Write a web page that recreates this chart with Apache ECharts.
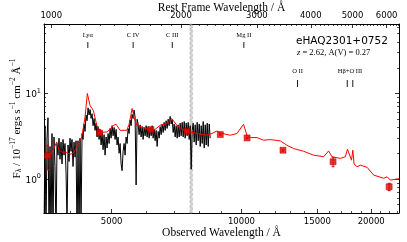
<!DOCTYPE html>
<html><head><meta charset="utf-8">
<script src="https://cdn.jsdelivr.net/npm/echarts@6/dist/echarts.min.js"></script>
<style>html,body{margin:0;padding:0;background:#fff}#c{width:407px;height:242px}</style>
</head><body><div id="c"></div>
<script>
const redshift = 2.62;
const objectName = 'eHAQ2301+0752';
const extinctionAV = 0.27;

// Observed spectrum (black)
const obsWave = [3483,3502,3520,3539,3558,3578,3597,3616,3635,3655,3674,3694,3714,3734,3754,3774,3794,3815,3835,3856,3876,3897,3918,3939,3960,3981,4002,4024,4045,4067,4089,4111,4133,4155,4177,4200,4222,4245,4268,4291,4314,4337,4360,4384,4407,4431,4455,4479,4503,4527,4551,4575,4600,4625,4649,4674,4699,4725,4750,4775,4801,4827,4853,4879,4905,4931,4958,4984,5011,5038,5064,5092,5119,5146,5174,5202,5230,5258,5286,5314,5343,5371,5400,5429,5458,5487,5517,5546,5576,5606,5636,5666,5697,5727,5758,5789,5820,5851,5883,5914,5946,5978,6010,6042,6075,6107,6140,6173,6206,6239,6273,6306,6340,6374,6409,6443,6477,6512,6547,6582,6617,6653,6688,6724,6760,6796,6833,6870,6907,6944,6981,7018,7056,7094,7132,7170,7209,7247,7286,7325,7365,7404,7444,7484,7524,7564,7605,7646,7687,7728,7769,7811,7853,7895,7937,7980,8023,8066,8109,8152,8196,8240,8284,8329,8373,8418,8463];
const obsFlux = [0.2,4.2,0.2,3.0,5.2,0.2,2.4,0.2,3.4,0.2,3.1,1.4,0.2,2.6,1.9,
  3.0,1.7,2.7,1.5,2.9,1.9,2.6,1.2,0.3,2.5,1.6,3.0,2.1,2.9,1.4,2.7,1.8,2.8,
  0.2,2.8,0.2,3.0,0.3,3.4,
  2.9,4.4,3.6,5.6,4.8,6.8,5.6,6.5,5.1,5.8,
  4.2,5.1,3.7,4.5,3.1,4.1,2.9,3.8,
  2.5,3.5,2.2,3.3,1.9,3.1,2.3,3.4,2.6,3.9,3.0,4.2,3.2,4.0,2.9,3.8,2.5,
  3.1,2.0,2.6,1.5,1.25,2.1,2.6,1.9,3.1,2.6,
  3.9,3.4,4.9,4.2,5.7,5.1,6.4,5.3,0.85,5.0,
  4.4,3.3,4.3,3.1,4.1,2.9,4.0,3.2,4.2,3.1,4.1,3.0,4.0,3.2,4.2,3.0,3.8,2.8,3.7,2.4,3.6,3.0,4.1,
  3.3,4.4,3.5,4.6,3.7,4.8,3.9,5.0,4.2,5.4,4.4,5.0,
  3.5,4.4,3.1,4.2,3.0,4.3,3.1,4.5,3.2,4.6,3.1,4.7,3.0,4.5,3.2,4.6,2.9,4.2,1.3,3.7,
  4.5,2.7,4.3,2.5,4.6,2.8,4.4,2.4,4.2,2.6,4.7,2.3,4.3,2.5,4.5,2.4,4.4,3.0];

// Model spectrum (red)
const modelWave = [3483,3597,3674,3728,3774,3835,3918,4003,4067,4148,4261,4337,4391,4454,4534,4617,4700,4775,4871,4958,5046,5120,5230,5421,5487,5577,5636,5718,5924,6140,6306,6477,6713,6895,7082,7336,7604,7882,8312,8540,8771,8926,9418,9761,10111,10297,10482,10863,11253,11662,12304,12751,13211,13936,14702,15508,15928,16221,16959,17416,17620,18000,18130,18250,18543,18875,19560,20266,21377,21770,22156,23246];
const modelFlux = [1.80,1.85,2.29,2.71,2.17,2.06,2.06,1.95,2.00,2.37,3.10,5.30,10.0,7.24,6.34,4.24,3.71,3.52,3.55,3.81,4.24,4.36,3.71,3.71,4.36,6.68,5.26,4.24,3.99,3.71,3.81,4.24,4.44,5.08,4.24,3.71,3.55,3.40,3.25,3.40,3.64,3.45,3.25,3.40,4.36,3.25,3.05,3.05,2.84,2.89,2.79,2.48,2.27,2.11,1.90,1.82,2.13,1.82,1.74,1.82,2.23,1.66,2.17,1.50,1.39,1.45,1.37,1.11,1.02,1.06,0.97,1.01];

// Photometry (red squares)
const photWave = [3551,4686,6166,7480,8932,10305,12483,16313,22010];
const photFlux = [1.88,3.45,3.78,3.61,3.31,3.02,2.17,1.59,0.81];
const photErr  = [0.60,0.05,0.05,0.05,0.06,0.06,0.06,0.20,0.08];

// Axis ticks
const obsTicks = [5000,10000,15000,20000];
const obsMinor = [4000,6000,7000,8000,9000,11000,12000,13000,14000,16000,17000,18000,19000,21000,22000,23000];
const restTicks = [1000,2000,3000,4000,5000,6000];
const yTicks = [1,10];
const yMinor = [0.4,0.5,0.6,0.7,0.8,0.9,2,3,4,5,6,7,8,9,20,30,40,50,60];

// Emission lines
const lineRest = [1216,1549,1909,2798,3727,4861,5007];
const lineNames = ['Lyα','C IV','C III','Mg II','O II','Hβ','O III'];
const lineGroups = [[0],[1],[2],[3],[4],[5,6]];

// Telluric band
const tellBand = [7600,7690];

const restMinor = [];
for (let r = 1000; r <= 6400; r += 100) if (restTicks.indexOf(r) < 0) restMinor.push(r);

const X0 = 3483, X1 = 23200, Y0 = 0.40, Y1 = 65;
const serif = 'Liberation Serif', sans = 'DejaVu Sans';
const zp1 = 1 + redshift;

function baseX(o) {
  return Object.assign({type:'log', logBase:10, min:X0, max:X1, splitLine:{show:false}, nameMoveOverlap:false,
    axisLine:{show:false}, axisLabel:{show:false}, axisTick:{show:false}, minorTick:{show:false}}, o);
}
function baseY(o) {
  return Object.assign({type:'log', logBase:10, min:Y0, max:Y1, splitLine:{show:false}, nameMoveOverlap:false,
    axisLine:{show:false}, axisLabel:{show:false}, axisTick:{show:false}, minorTick:{show:false}}, o);
}
const frameLine = {show:true, onZero:false, lineStyle:{color:'#000', width:1}};

const chart = echarts.init(document.getElementById('c'), null, {renderer:'canvas'});
chart.setOption({
  animation:false,
  backgroundColor:'#fff',
  grid:{left:44, right:8, top:24, bottom:29, containLabel:false, outerBoundsMode:'none'},
  xAxis:[
    baseX({position:'bottom', axisLine:frameLine,
      axisTick:{show:true, inside:true, length:4, customValues:obsTicks, lineStyle:{color:'#000', width:0.8}},
      axisLabel:{show:true, customValues:obsTicks, margin:4, fontFamily:sans, fontSize:8.5, color:'#000',
        formatter:v => String(Math.round(v))},
      name:'Observed Wavelength / Å', nameLocation:'middle', nameGap:14,
      nameTextStyle:{fontFamily:serif, fontSize:11.5, color:'#000'}}),
    baseX({position:'bottom',
      axisTick:{show:true, inside:true, length:2, customValues:obsMinor, lineStyle:{color:'#000', width:0.7}}}),
    baseX({position:'top', axisLine:frameLine,
      axisTick:{show:true, inside:true, length:4, customValues:restTicks.map(r => r*zp1), lineStyle:{color:'#000', width:0.8}},
      axisLabel:{show:true, customValues:restTicks.map(r => r*zp1), margin:4, fontFamily:sans, fontSize:8.5, color:'#000',
        formatter:v => String(Math.round(v/zp1/100)*100)},
      name:'Rest Frame Wavelength / Å', nameLocation:'middle', nameGap:10,
      nameTextStyle:{fontFamily:serif, fontSize:11.5, color:'#000'}}),
    baseX({position:'top',
      axisTick:{show:true, inside:true, length:2, customValues:restMinor.map(r => r*zp1), lineStyle:{color:'#000', width:0.7}}})
  ],
  yAxis:[
    baseY({position:'left', axisLine:frameLine,
      axisTick:{show:true, inside:true, length:4, customValues:yTicks, lineStyle:{color:'#000', width:0.8}},
      axisLabel:{show:true, customValues:yTicks, margin:3, color:'#000',
        formatter:v => '{b|10}{s|' + Math.round(Math.log10(v)) + '}',
        rich:{b:{fontFamily:sans, fontSize:9, color:'#000', padding:[3,0,0,0]},
              s:{fontFamily:sans, fontSize:6.5, color:'#000', verticalAlign:'top'}}},
      name:'{n|F}{sub|λ}{n| / 10}{sup|−17}{n| ergs s}{sup|−1}{n| cm}{sup|−2}{n| Å}{sup|−1}',
      nameLocation:'middle', nameRotate:90, nameGap:21,
      nameTextStyle:{fontFamily:serif, fontSize:11, color:'#000',
        rich:{n:{fontFamily:serif, fontSize:11, color:'#000', padding:[3,0,0,0]},
              sub:{fontFamily:serif, fontSize:7.5, color:'#000', verticalAlign:'bottom'},
              sup:{fontFamily:serif, fontSize:7.5, color:'#000', verticalAlign:'top'}}}}),
    baseY({position:'left',
      axisTick:{show:true, inside:true, length:2, customValues:yMinor, lineStyle:{color:'#000', width:0.7}}}),
    baseY({position:'right', axisLine:frameLine,
      axisTick:{show:true, inside:true, length:4, customValues:yTicks, lineStyle:{color:'#000', width:0.8}}}),
    baseY({position:'right',
      axisTick:{show:true, inside:true, length:2, customValues:yMinor, lineStyle:{color:'#000', width:0.7}}})
  ],
  series:[
    {type:'line', xAxisIndex:0, yAxisIndex:0, symbol:'none', clip:true, z:2,
      data:obsWave.map((w,i) => [w, obsFlux[i]]),
      lineStyle:{color:'#000', width:1},
      markArea:{silent:true, itemStyle:{color:'rgba(185,185,185,0.55)', borderColor:'rgba(150,150,150,0.7)', borderWidth:0.8, borderType:'dashed'},
        data:[[{xAxis:tellBand[0]},{xAxis:tellBand[1]}]]}},
    {type:'line', xAxisIndex:0, yAxisIndex:0, symbol:'none', clip:true, z:3,
      data:modelWave.map((w,i) => [w, modelFlux[i]]),
      lineStyle:{color:'#ff0000', width:1}},
    {type:'custom', xAxisIndex:0, yAxisIndex:0, z:4, clip:true,
      data:photWave.map((w,i) => [w, photFlux[i], photErr[i]]),
      encode:{x:0, y:1},
      renderItem:(params, api) => {
        const x = api.value(0), f = api.value(1), e = api.value(2);
        const lo = api.coord([x, f - e]), hi = api.coord([x, f + e]);
        const st = {stroke:'#dd0000', lineWidth:1};
        return {type:'group', children:[
          {type:'line', shape:{x1:lo[0], y1:lo[1], x2:hi[0], y2:hi[1]}, style:st},
          {type:'line', shape:{x1:lo[0]-1.5, y1:lo[1], x2:lo[0]+1.5, y2:lo[1]}, style:st},
          {type:'line', shape:{x1:hi[0]-1.5, y1:hi[1], x2:hi[0]+1.5, y2:hi[1]}, style:st}
        ]};
      }},
    {type:'scatter', xAxisIndex:0, yAxisIndex:0, z:5, symbol:'rect', symbolSize:6,
      data:photWave.map((w,i) => [w, photFlux[i]]),
      itemStyle:{color:'#ee0000', borderColor:'#990000', borderWidth:0.6}},
    {type:'custom', xAxisIndex:0, yAxisIndex:0, z:6, clip:false, silent:true,
      data:lineGroups.map(g => [lineRest[g[0]]*zp1, lineRest[g[g.length-1]]*zp1]),
      renderItem:(params, api) => {
        const a = api.value(0), b = api.value(1);
        const xa = api.coord([a, 1])[0], xb = api.coord([b, 1])[0];
        const top = params.coordSys.y;
        const uv = a / zp1 < 3000;
        const ty = top + (uv ? 11 : 47.5);
        const t0 = top + (uv ? 18 : 56), t1 = top + (uv ? 24 : 63);
        const name = lineGroups[params.dataIndex].map(k => lineNames[k]).join('+');
        const ch = [{type:'text', style:{text:name, x:(xa+xb)/2, y:ty, align:'center', verticalAlign:'middle',
          font:'6.5px "Liberation Serif"', fill:'#000'}}];
        const xs = a === b ? [xa] : [xa, xb];
        xs.forEach(x => ch.push({type:'line', shape:{x1:x, y1:t0, x2:x, y2:t1}, style:{stroke:'#000', lineWidth:0.9}}));
        return {type:'group', children:ch};
      }}
  ],
  graphic:[
    {type:'text', left:296, top:36, style:{text:objectName, font:'10.5px "DejaVu Sans"', fill:'#000'}},
    {type:'text', left:297, top:48.5, style:{text:'{i|z} = ' + redshift.toFixed(2) + ', A(V) = ' + extinctionAV.toFixed(2),
      font:'8.5px "Liberation Serif"', fill:'#000',
      rich:{i:{fontFamily:serif, fontStyle:'italic', fontSize:8.5, fill:'#000'}}}}
  ]
});
</script>
</body></html>
